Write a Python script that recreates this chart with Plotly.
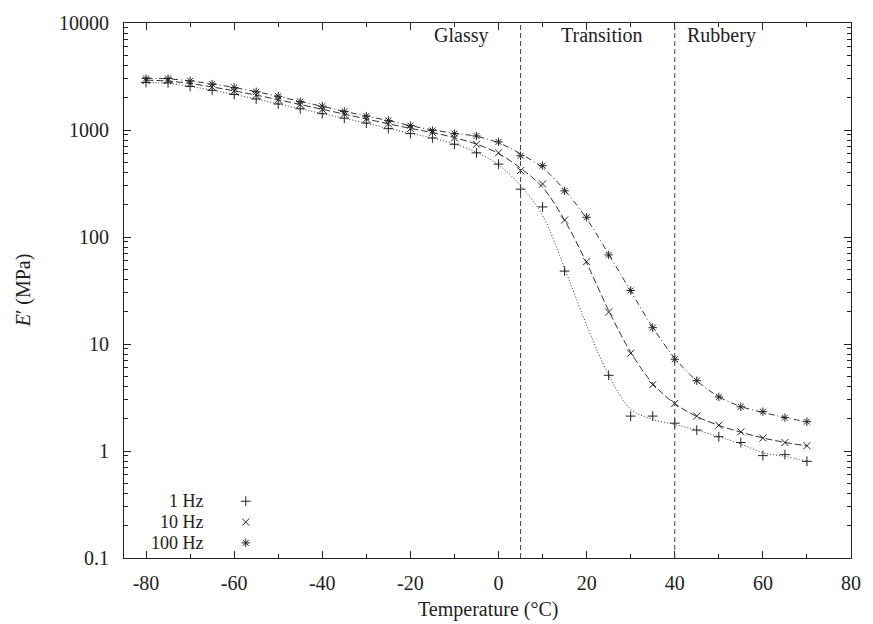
import numpy as np
import plotly.graph_objects as go

# ---------------- data ----------------
temps = [-80, -75, -70, -65, -60, -55, -50, -45, -40, -35, -30, -25, -20, -15, -10, -5,
         0, 5, 10, 15, 20, 25, 30, 35, 40, 45, 50, 55, 60, 65, 70]

e_1hz = [2780, 2760, 2550, 2350, 2150, 1950, 1750, 1580, 1420, 1290, 1160, 1030, 925, 843, 736, 612,
         480, 280, 191, 48, None, 5.1, 2.12, 2.12, 1.82, 1.57, 1.36, 1.2, 0.905, 0.925, 0.8]
e_10hz = [2900, 2900, 2720, 2520, 2320, 2120, 1920, 1730, 1560, 1410, 1270, 1140, 1030, 950, 843, 736,
          612, 417, 313, 144, 58.8, 19.9, 8.2, 4.17, 2.78, 2.12, 1.74, 1.51, 1.32, 1.2, 1.12]
e_100hz = [3030, 3030, 2880, 2690, 2500, 2280, 2070, 1840, 1670, 1490, 1350, 1230, 1100, 990, 925, 880,
           774, 574, 464, 270, 153, 68, 31.6, 14.2, 7.2, 4.54, 3.2, 2.59, 2.33, 2.05, 1.88]

series_names = ["1 Hz", "10 Hz", "100 Hz"]
series_values = [e_1hz, e_10hz, e_100hz]
series_symbols = ["cross-thin", "x-thin", "asterisk"]
series_dash = ["1px,2px", "7px,3px", "6px,3px,1px,3px"]

region_bounds = [5, 40]
region_labels = ["Glassy", "Transition", "Rubbery"]
region_label_x = [-8.6, 23.4, 50.5]

x_ticks = [-80, -60, -40, -20, 0, 20, 40, 60, 80]
x_ticktext = ["-80", "-60", "-40", "-20", "0", "20", "40", "60", "80"]
y_ticks = [0.1, 1, 10, 100, 1000, 10000]
y_ticktext = ["0.1", "1", "10", "100", "1000", "10000"]

FONT = "Liberation Serif"
FS = 20
LEG_FS = 18
INK = "#222222"
LINE = "#333333"


def smooth_log(vals, lam=0.25):
    """Whittaker smoother in log space (missing values get zero weight)."""
    n = len(vals)
    w = np.array([0.0 if v is None else 1.0 for v in vals])
    y = np.array([0.0 if v is None else np.log10(v) for v in vals])
    D = np.diff(np.eye(n), 2, axis=0)
    A = np.diag(w) + lam * D.T @ D
    z = np.linalg.solve(A, w * y)
    return list(10 ** z)


fig = go.Figure()

for name, vals, sym, dash in zip(series_names, series_values, series_symbols, series_dash):
    xs = [t for t, v in zip(temps, vals) if v is not None]
    ys = [v for v in vals if v is not None]
    fig.add_trace(go.Scatter(
        x=temps, y=smooth_log(vals), mode="lines",
        line=dict(color=LINE, width=1, dash=dash, shape="spline", smoothing=1.0),
        showlegend=False, hoverinfo="skip"))
    fig.add_trace(go.Scatter(
        x=xs, y=ys, mode="markers", name=name,
        marker=dict(symbol=sym, size=7, color=INK, line=dict(color=INK, width=1)),
        showlegend=False))

# custom legend (label right-aligned, sample on the right)
leg_text_x = 0.1129
leg_mark_x = 0.1675
leg_rows_y = [0.1061, 0.0672, 0.0283]
for name, sym, yy in zip(series_names, series_symbols, leg_rows_y):
    fig.add_annotation(x=leg_text_x, y=yy, xref="paper", yref="paper", text=name, showarrow=False,
                       xanchor="right", yanchor="middle",
                       font=dict(family=FONT, size=LEG_FS, color=INK))
    fig.add_trace(go.Scatter(
        x=[leg_mark_x], y=[yy], xaxis="x2", yaxis="y2", mode="markers", showlegend=False,
        hoverinfo="skip",
        marker=dict(symbol=sym, size=7, color=INK, line=dict(color=INK, width=1))))

# region boundaries
for b in region_bounds:
    fig.add_shape(type="line", xref="x", yref="paper", x0=b, x1=b, y0=0, y1=1,
                  line=dict(color="#444444", width=1, dash="5px,3px"))

for lbl, lx in zip(region_labels, region_label_x):
    fig.add_annotation(x=lx, y=0.977, xref="x", yref="paper", text=lbl, showarrow=False,
                       xanchor="center", yanchor="middle", font=dict(family=FONT, size=FS, color=INK))

# axis titles
fig.add_annotation(x=0.5, y=-0.0957, xref="paper", yref="paper", text="Temperature (°C)",
                   showarrow=False, xanchor="center", yanchor="middle",
                   font=dict(family=FONT, size=FS, color=INK))
fig.add_annotation(x=-0.1378, y=0.5, xref="paper", yref="paper", text="<i>E</i>′ (MPa)",
                   showarrow=False, xanchor="center", yanchor="middle", textangle=-90,
                   font=dict(family=FONT, size=FS, color=INK))

minor_y = [d * m for d in [0.1, 1, 10, 100, 1000] for m in range(2, 10)]

fig.update_layout(
    width=873, height=624,
    margin=dict(l=124, r=16, t=18, b=66),
    paper_bgcolor="white", plot_bgcolor="white",
    font=dict(family=FONT, size=FS, color=INK),
    xaxis=dict(range=[-85, 80], tickvals=x_ticks, ticktext=x_ticktext, ticks="inside", ticklen=7,
               tickcolor=INK, showline=True, linecolor=INK, linewidth=1.2, mirror="allticks",
               showgrid=False, zeroline=False, ticklabelstandoff=7,
               minor=dict(dtick=10, ticks="inside", ticklen=4, tickcolor=INK, showgrid=False)),
    yaxis=dict(type="log", range=[-1, 4], tickvals=y_ticks, ticktext=y_ticktext, ticks="inside",
               ticklen=7, tickcolor=INK, showline=True, linecolor=INK, linewidth=1.2,
               mirror="allticks", showgrid=False, zeroline=False, ticklabelstandoff=10,
               minor=dict(tickvals=minor_y, ticks="inside", ticklen=4, tickcolor=INK, showgrid=False)),
    xaxis2=dict(overlaying="x", range=[0, 1], visible=False),
    yaxis2=dict(overlaying="y", range=[0, 1], visible=False),
    showlegend=False,
)

fig.write_html("out.html")
